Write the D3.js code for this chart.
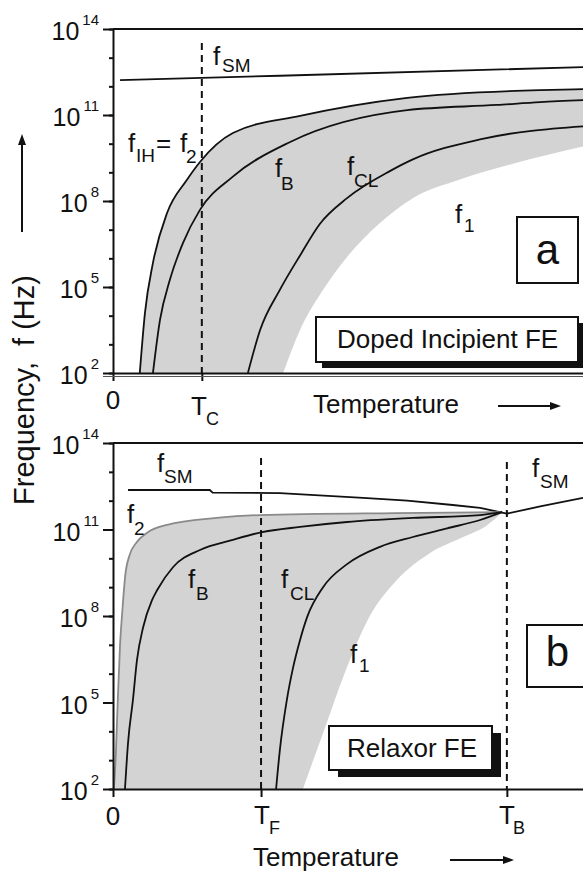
<!DOCTYPE html>
<html>
<head>
<meta charset="utf-8">
<script src="https://cdn.jsdelivr.net/npm/d3@7"></script>
<style>
  body { margin: 0; background: #fff; }
  text { font-family: "Liberation Sans", Arial, sans-serif; fill: #111; }
</style>
</head>
<body>
<svg id="chart" width="583" height="873"></svg>
<script>
// ─── Data (temperature in arbitrary units 0..100, frequency as log10 Hz) ─────
const decades      = [2, 3, 4, 5, 6, 7, 8, 9, 10, 11, 12, 13, 14];
const majorDecades = [2, 5, 8, 11, 14];

// panel a : doped incipient ferroelectric
const T_C      = 18.9;
const aSoftMode = [[1.5, 12.22], [35.5, 12.37], [100, 12.67]];
const aF2      = [[5.7, 2], [6.8, 4.1], [8.5, 5.84], [11.5, 7.58], [15.7, 8.73], [18.5, 9.36],
                  [25.5, 10.37], [39.8, 10.97], [62.6, 11.6], [90.9, 11.87], [100, 11.9]];
const aFB      = [[8.5, 2], [10, 3.85], [12.1, 5.25], [14.9, 6.54], [18.5, 7.69], [25.5, 8.85],
                  [37.7, 10.06], [62.6, 11.17], [81.7, 11.35], [90.9, 11.45], [100, 11.52]];
const aFCL     = [[28.7, 2], [31.3, 3.5], [35.5, 4.9], [39.8, 6.1], [44, 7.2], [49.8, 8.1],
                  [59, 9.05], [63.8, 9.45], [78.1, 10.15], [100, 10.6]];
const aF1      = [[36.2, 2], [39.8, 3.5], [44.7, 4.9], [49.8, 6.05], [56.8, 7.23], [63.8, 8.1],
                  [73.8, 8.75], [85.1, 9.3], [100, 9.9]];

// panel b : relaxor ferroelectric
const T_F      = 31.5;
const T_B      = 83.8;
const bSoftLow  = [[3.2, 12.37], [20.6, 12.37], [21.2, 12.28], [35.5, 12.26], [53.2, 12.1],
                   [62.6, 12.0], [72.3, 11.85], [78.1, 11.75], [83.8, 11.55]];
const bSoftHigh = [[83.8, 11.55], [90.9, 11.8], [100, 12.1]];
const bF2      = [[0.2, 2], [0.6, 3.2], [1.0, 5.0], [1.5, 7.0], [2.0, 8.2], [2.6, 9.4], [3.5, 10.1],
                  [5, 10.55], [7.2, 10.88], [11.5, 11.16], [22, 11.4], [31.3, 11.5], [60, 11.57], [82.8, 11.6]];
const bFB      = [[2.55, 2], [3.2, 3.6], [4.25, 5.1], [5.1, 6.47], [6.4, 7.6], [8.3, 8.55], [9.4, 8.9],
                  [12.8, 9.7], [18.5, 10.29], [25.5, 10.64], [31.5, 10.9], [39.8, 11.09], [49.8, 11.26],
                  [63.8, 11.4], [78.1, 11.5], [82.8, 11.6]];
const bFCL     = [[34.7, 2], [35.5, 3.35], [37, 5.1], [38.3, 6.2], [39.8, 7.17], [41.3, 7.96], [44.7, 9.0],
                  [49.8, 9.8], [56.8, 10.4], [63.8, 10.74], [71.1, 11.04], [78.1, 11.33], [82.8, 11.6]];
const bF1      = [[40.4, 2], [44.7, 3.94], [49.8, 6.23], [54.3, 7.9], [60.4, 9.25], [67.4, 10.18],
                  [74.5, 10.74], [79.6, 11.15], [82.8, 11.6]];

// ─── Setup ────────────────────────────────────────────────────────────────────
const svg = d3.select("#chart");
const LEFT = 113, RIGHT = 583;
const x = d3.scaleLinear().domain([0, 100]).range([LEFT, RIGHT]);
const hz = e => Math.pow(10, e);

function arrow(g, x1, y1, x2, y2) {
    const ang = Math.atan2(y2 - y1, x2 - x1), L = 11, Wd = 4;
    g.append("line").attr("x1", x1).attr("y1", y1)
        .attr("x2", x2 - L * Math.cos(ang) * 0.7).attr("y2", y2 - L * Math.sin(ang) * 0.7)
        .attr("stroke", "#111").attr("stroke-width", 2);
    const bx = x2 - L * Math.cos(ang), by = y2 - L * Math.sin(ang);
    const px = -Math.sin(ang) * Wd, py = Math.cos(ang) * Wd;
    g.append("path")
        .attr("d", `M${x2},${y2}L${bx + px},${by + py}L${bx - px},${by - py}Z`)
        .attr("fill", "#111");
}

// "f" with subscript
function fLabel(g, fx, fy, sub, sx, sy, size = 26, subSize = 19, main = "f") {
    g.append("text").attr("x", fx).attr("y", fy).attr("font-size", size).text(main);
    g.append("text").attr("x", sx).attr("y", sy).attr("font-size", subSize).text(sub);
}

function box(g, x0, y0, w, h, shadow, label, size, tx, ty, anchor = "start") {
    if (shadow) {
        g.append("rect").attr("x", x0 + shadow[0]).attr("y", y0 + shadow[1])
            .attr("width", w).attr("height", h).attr("fill", "#111");
    }
    g.append("rect").attr("x", x0).attr("y", y0).attr("width", w).attr("height", h)
        .attr("fill", "#fff").attr("stroke", "#111").attr("stroke-width", 2);
    g.append("text").attr("x", tx).attr("y", ty).attr("font-size", size)
        .attr("text-anchor", anchor).text(label);
}

function drawPanel(p) {
    const y = d3.scaleLog().domain([hz(2), hz(14)]).range([p.bottom, p.top]);
    const g = svg.append("g");

    const clipId = "clip-" + p.id;
    svg.append("clipPath").attr("id", clipId).append("rect")
        .attr("x", LEFT).attr("y", p.top).attr("width", RIGHT - LEFT).attr("height", p.bottom - p.top);
    const plot = g.append("g").attr("clip-path", `url(#${clipId})`);

    const line = d3.line().x(d => x(d[0])).y(d => y(hz(d[1]))).curve(d3.curveMonotoneX);
    const straight = d3.line().x(d => x(d[0])).y(d => y(hz(d[1])));
    const area = d3.area().x(d => x(d[0])).y0(p.bottom).y1(d => y(hz(d[1]))).curve(d3.curveMonotoneX);

    // grey band between upper and lower curves
    plot.append("path").attr("d", area(p.upper)).attr("fill", "#d3d3d3");
    plot.append("path").attr("d", area(p.lower)).attr("fill", "#fff");

    p.curves.forEach(c => {
        plot.append("path").attr("d", (c.straight ? straight : line)(c.data))
            .attr("fill", "none").attr("stroke", c.color || "#111")
            .attr("stroke-width", 1.8).attr("stroke-linejoin", "round");
    });

    // dashed transition temperatures
    p.dashes.forEach(dsh => {
        g.append("line").attr("x1", x(dsh.T)).attr("x2", x(dsh.T))
            .attr("y1", dsh.top).attr("y2", p.bottom)
            .attr("stroke", "#111").attr("stroke-width", 2).attr("stroke-dasharray", "7,5");
    });

    // y axis: minor then major ticks
    g.append("g").attr("transform", `translate(${LEFT},0)`)
        .call(d3.axisLeft(y).tickValues(decades.map(hz)).tickSize(4).tickSizeOuter(0).tickFormat(""));
    g.append("g").attr("transform", `translate(${LEFT},0)`)
        .call(d3.axisLeft(y).tickValues(majorDecades.map(hz)).tickSize(10).tickSizeOuter(0).tickFormat(""))
        .call(a => a.select(".domain").remove());
    g.selectAll(".tick line, .domain").attr("stroke", "#111").attr("stroke-width", 2);

    majorDecades.forEach(e => {
        const t = g.append("text").attr("x", 99).attr("y", y(hz(e)) + 11)
            .attr("font-size", 25).attr("text-anchor", "end");
        t.append("tspan").text("10");
        t.append("tspan").attr("dx", 3).attr("dy", -15).attr("font-size", 15).text(e);
    });

    // top frame
    g.append("line").attr("x1", LEFT).attr("x2", RIGHT).attr("y1", p.top).attr("y2", p.top)
        .attr("stroke", "#111").attr("stroke-width", 2);

    // x axis
    g.append("g").attr("transform", `translate(0,${p.bottom})`)
        .call(d3.axisBottom(x).tickValues([0, ...p.dashes.map(d => d.T)]).tickSize(8)
            .tickSizeOuter(0).tickFormat(""))
        .call(a => a.selectAll("line, path").attr("stroke", "#111").attr("stroke-width", 2));

    g.append("text").attr("x", x(0)).attr("y", p.bottom + 36).attr("font-size", 26)
        .attr("text-anchor", "middle").text("0");

    return { g, y };
}

// ─── Panel a ──────────────────────────────────────────────────────────────────
const pa = drawPanel({
    id: "a", top: 29, bottom: 373,
    upper: aF2, lower: aF1,
    curves: [
        { data: aSoftMode, straight: true },
        { data: aF2 }, { data: aFB }, { data: aFCL }
    ],
    dashes: [{ T: T_C, top: 43 }]
});
pa.g.append("line").attr("x1", 103).attr("x2", RIGHT).attr("y1", 376.5).attr("y2", 376.5)
    .attr("stroke", "#555").attr("stroke-width", 1);

fLabel(pa.g, 213, 65, "SM", 222, 72);
fLabel(pa.g, 128, 152, "IH", 136, 162);
pa.g.append("text").attr("x", 156).attr("y", 152).attr("font-size", 26).text("=");
fLabel(pa.g, 180, 152, "2", 186, 163);
fLabel(pa.g, 275, 177, "B", 281, 190);
fLabel(pa.g, 347, 175, "CL", 354, 187);
fLabel(pa.g, 455, 223, "1", 464, 232);

box(pa.g, 517, 217, 61, 66, null, "a", 42, 547.5, 264, "middle");
box(pa.g, 316, 317, 262, 45, [6, 6], "Doped Incipient FE", 26, 337, 348);

fLabel(pa.g, 191, 415, "C", 206, 425, 26, 18, "T");
pa.g.append("text").attr("x", 313).attr("y", 413).attr("font-size", 26).text("Temperature");
arrow(pa.g, 498, 406, 561, 406);

// ─── Panel b ──────────────────────────────────────────────────────────────────
const pb = drawPanel({
    id: "b", top: 443, bottom: 789,
    upper: bF2, lower: bF1,
    curves: [
        { data: bSoftLow, straight: true },
        { data: bSoftHigh, straight: true },
        { data: bF2, color: "#8a8a8a" },
        { data: bFB }, { data: bFCL }
    ],
    dashes: [{ T: T_F, top: 458 }, { T: T_B, top: 462 }]
});

fLabel(pb.g, 157, 472, "SM", 164, 483);
fLabel(pb.g, 127, 523, "2", 134, 535);
fLabel(pb.g, 188, 588, "B", 196, 600);
fLabel(pb.g, 281, 588, "CL", 290, 600);
fLabel(pb.g, 532, 477, "SM", 540, 488);
fLabel(pb.g, 350, 663, "1", 359, 672);

box(pb.g, 527, 625, 61, 62, null, "b", 42, 557.5, 666, "middle");
box(pb.g, 329, 726, 163, 44, [9, 7], "Relaxor FE", 26, 347, 757);

fLabel(pb.g, 254, 824, "F", 269, 834, 26, 18, "T");
fLabel(pb.g, 499, 824, "B", 513, 834, 26, 18, "T");
pb.g.append("text").attr("x", 253).attr("y", 866).attr("font-size", 26).text("Temperature");
arrow(pb.g, 450, 860, 514, 860);

// ─── Shared y title ───────────────────────────────────────────────────────────
svg.append("text").attr("transform", "translate(34,390) rotate(-90)")
    .attr("font-size", 29).attr("text-anchor", "middle")
    .attr("xml:space", "preserve").style("white-space", "pre")
    .text("Frequency,  f (Hz)");
arrow(svg, 22, 232, 22, 134);
</script>
</body>
</html>
